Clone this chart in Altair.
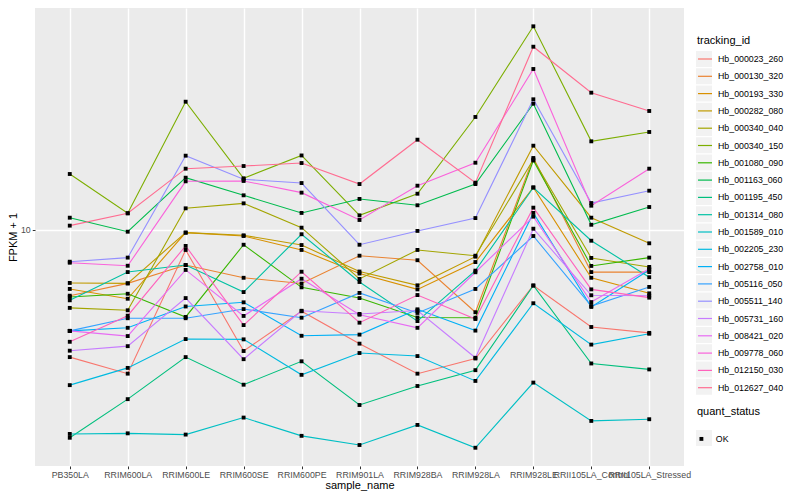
import altair as alt
import pandas as pd

SAMPLES = ["PB350LA", "RRIM600LA", "RRIM600LE", "RRIM600SE", "RRIM600PE", "RRIM901LA",
           "RRIM928BA", "RRIM928LA", "RRIM928LE", "RRII105LA_Control", "RRII105LA_Stressed"]

TRACKING_IDS = ["Hb_000023_260", "Hb_000130_320", "Hb_000193_330", "Hb_000282_080",
                "Hb_000340_040", "Hb_000340_150", "Hb_001080_090", "Hb_001163_060",
                "Hb_001195_450", "Hb_001314_080", "Hb_001589_010", "Hb_002205_230",
                "Hb_002758_010", "Hb_005116_050", "Hb_005511_140", "Hb_005731_160",
                "Hb_008421_020", "Hb_009778_060", "Hb_012150_030", "Hb_012627_040"]

# FPKM + 1 per sample (order of SAMPLES)
hb_000023_260 = [3.77, 3.32, 8.58, 3.95, 5.36, 4.18, 3.32, 3.73, 6.53, 4.75, 4.54]
hb_000130_320 = [6.04, 6.64, 7.64, 6.93, 6.63, 8.21, 7.93, 5.32, 17.38, 7.24, 7.24]
hb_000193_330 = [6.36, 5.90, 9.80, 9.55, 8.58, 7.16, 6.34, 7.82, 13.86, 6.93, 6.15]
hb_000282_080 = [6.66, 6.64, 9.80, 9.60, 8.91, 7.27, 6.54, 8.15, 19.10, 10.99, 9.03]
hb_000340_040 = [5.50, 5.40, 11.81, 12.27, 10.18, 6.87, 8.58, 8.21, 17.18, 8.07, 7.53]
hb_000340_150 = [15.37, 11.37, 26.77, 14.87, 17.72, 11.19, 13.21, 23.81, 47.75, 19.75, 21.22]
hb_001080_090 = [5.98, 6.13, 5.13, 8.93, 6.44, 5.93, 5.11, 5.10, 17.05, 7.59, 8.09]
hb_001163_060 = [10.99, 9.87, 14.94, 13.05, 11.40, 12.69, 12.09, 14.23, 26.36, 10.41, 11.93]
hb_001195_450 = [2.03, 2.73, 3.77, 3.05, 3.65, 2.61, 3.02, 3.41, 6.53, 3.59, 3.43]
hb_001314_080 = [5.83, 7.24, 7.64, 6.21, 9.68, 6.71, 4.97, 7.32, 13.86, 9.21, 6.96]
hb_001589_010 = [2.09, 2.10, 2.08, 2.37, 2.06, 1.92, 2.24, 1.88, 3.10, 2.31, 2.34]
hb_002205_230 = [3.04, 3.47, 4.33, 4.32, 3.29, 3.89, 3.80, 3.14, 5.70, 4.15, 4.51]
hb_002758_010 = [4.61, 4.72, 5.56, 5.74, 4.44, 4.48, 5.44, 4.62, 11.40, 5.54, 7.36]
hb_005116_050 = [4.61, 5.08, 5.08, 5.45, 5.10, 6.17, 5.29, 6.36, 9.55, 5.58, 6.46]
hb_005511_140 = [7.84, 8.09, 17.69, 14.76, 14.34, 8.93, 9.93, 10.96, 27.27, 12.30, 13.52]
hb_005731_160 = [3.96, 4.10, 5.93, 3.71, 5.38, 5.25, 5.39, 3.75, 10.10, 6.06, 6.04]
hb_008421_020 = [4.61, 4.43, 7.36, 5.17, 6.88, 5.22, 4.72, 7.23, 11.08, 5.75, 7.43]
hb_009778_060 = [7.78, 7.60, 14.53, 14.57, 13.32, 10.80, 14.05, 16.76, 34.41, 12.05, 16.01]
hb_012150_030 = [4.24, 5.18, 8.85, 4.82, 7.26, 4.91, 6.07, 5.05, 11.87, 6.34, 5.95]
hb_012627_040 = [10.34, 11.37, 16.01, 16.34, 16.72, 14.23, 20.00, 14.38, 40.83, 28.69, 24.93]

SERIES = [hb_000023_260, hb_000130_320, hb_000193_330, hb_000282_080, hb_000340_040,
          hb_000340_150, hb_001080_090, hb_001163_060, hb_001195_450, hb_001314_080,
          hb_001589_010, hb_002205_230, hb_002758_010, hb_005116_050, hb_005511_140,
          hb_005731_160, hb_008421_020, hb_009778_060, hb_012150_030, hb_012627_040]

COLORS = ["#F8766D", "#EA8331", "#D89000", "#C09B00", "#A3A500", "#7CAE00", "#39B600",
          "#00BB4E", "#00BF7D", "#00C1A3", "#00BFC4", "#00BAE0", "#00B0F6", "#35A2FF",
          "#9590FF", "#C77CFF", "#E76BF3", "#FA62DB", "#FF62BC", "#FF6C91"]

KEY_FILL = "#F2F2F2"

rows = []
for tid, vals in zip(TRACKING_IDS, SERIES):
    for s, v in zip(SAMPLES, vals):
        rows.append({"tracking_id": tid, "sample_name": s, "fpkm": v, "quant_status": "OK",
                     "key_bg": tid + " ", "status_bg": "OK "})
df = pd.DataFrame(rows)

FONT = "Liberation Sans"

x = alt.X("sample_name:N", sort=SAMPLES, title="sample_name",
          scale=alt.Scale(type="point", padding=0.6),
          axis=alt.Axis(labelAngle=0, labelOverlap=False, labelPadding=1.5, titlePadding=0.5))
y = alt.Y("fpkm:Q", title="FPKM + 1",
          scale=alt.Scale(type="log", domain=[1.6343, 54.954], nice=False, zero=False),
          axis=alt.Axis(values=[10], format="d", titlePadding=1.5))

# legend key backgrounds (grey squares, as in ggplot legends); no marks drawn in the plot
key_bg = alt.Chart(df).transform_filter("false").mark_square(opacity=1).encode(
    x=x, y=y,
    color=alt.Color("key_bg:N", title=None,
                    scale=alt.Scale(domain=[t + " " for t in TRACKING_IDS],
                                    range=[KEY_FILL] * len(TRACKING_IDS)),
                    legend=alt.Legend(orient="none", legendX=661, legendY=43,
                                      symbolType="square", symbolSize=256,
                                      symbolOpacity=1, symbolStrokeWidth=0,
                                      rowPadding=1.25, labelExpr="''"))
)
status_bg = alt.Chart(df).transform_filter("false").mark_square(opacity=1).encode(
    x=x, y=y,
    fill=alt.Fill("status_bg:N", title=None,
                  scale=alt.Scale(domain=["OK "], range=[KEY_FILL]),
                  legend=alt.Legend(orient="none", legendX=661, legendY=422,
                                    symbolType="square", symbolSize=256,
                                    symbolOpacity=1, symbolStrokeWidth=0,
                                    labelExpr="''"))
)

lines = alt.Chart(df).mark_line(strokeWidth=1.1).encode(
    x=x, y=y,
    stroke=alt.Stroke("tracking_id:N", title="tracking_id",
                      scale=alt.Scale(domain=TRACKING_IDS, range=COLORS),
                      legend=alt.Legend(orient="none", legendX=662, legendY=27,
                                        symbolType="stroke", symbolSize=196,
                                        symbolStrokeWidth=1.2, rowPadding=4.3,
                                        titlePadding=5, labelOffset=5))
)

points = alt.Chart(df).mark_point(filled=True, shape="square", size=15, color="black",
                                  opacity=1).encode(
    x=x, y=y,
    shape=alt.Shape("quant_status:N", title="quant_status",
                    scale=alt.Scale(domain=["OK"], range=["square"]),
                    legend=alt.Legend(orient="none", legendX=662, legendY=398,
                                      symbolSize=15, symbolFillColor="black",
                                      symbolStrokeWidth=0, titlePadding=17.5, labelOffset=10))
)

chart = alt.layer(key_bg, status_bg, lines, points).properties(
    width=649, height=458,
    padding={"left": 27, "top": 0, "right": 105, "bottom": 26},
    autosize=alt.AutoSizeParams(type="none"),
).resolve_scale(
    color="independent", fill="independent", stroke="independent", shape="independent"
).configure_view(
    fill="#EBEBEB", strokeWidth=0
).configure_axis(
    labelFont=FONT, titleFont=FONT, labelFontSize=8.8, labelColor="#4D4D4D",
    titleFontSize=11, titleColor="black", titleFontWeight="normal",
    tickColor="#333333", tickSize=2.75, tickWidth=1, domain=False,
    grid=True, gridColor="white", gridWidth=1.4
).configure_legend(
    titleFont=FONT, labelFont=FONT, titleFontSize=11, titleFontWeight="normal",
    titleColor="black", labelFontSize=8.8, labelColor="black", padding=0
)

chart.save("out.html", embed_options={"renderer": "svg", "actions": False})
